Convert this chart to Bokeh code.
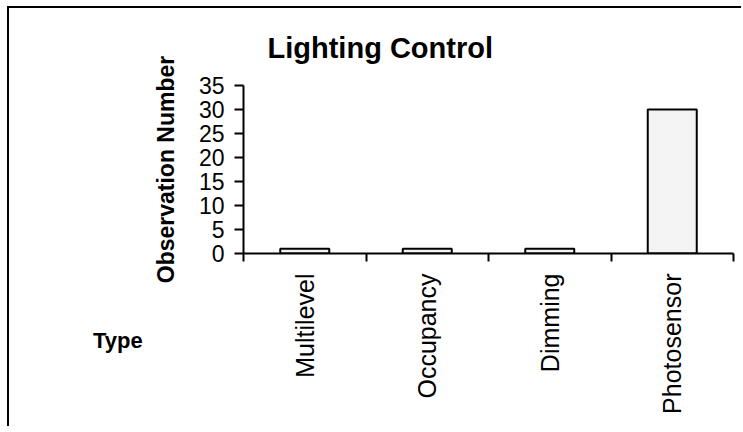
from math import pi

from bokeh.plotting import figure
from bokeh.layouts import row
from bokeh.models import (Range1d, LinearAxis, CategoricalAxis, FixedTicker,
                          ColumnDataSource, Div)
from bokeh.embed import file_html
from bokeh.resources import INLINE

# ---- data ----
categories = ["Multilevel", "Occupancy", "Dimming", "Photosensor"]
observations = [1, 1, 1, 30]
y_ticks = [0, 5, 10, 15, 20, 25, 30, 35]
title_text = "Lighting Control"
y_label = "Observation Number"
x_label = "Type"

FONT = "Liberation Sans"

src = ColumnDataSource(dict(cat=categories, obs=observations))

H = 420
LEFT_W = 140
FIG_W = 600

p = figure(x_range=categories, y_range=Range1d(y_ticks[0], y_ticks[-1]),
           width=FIG_W, height=H, output_backend="svg", toolbar_location=None,
           x_axis_location=None, title=title_text,
           min_border_left=94, min_border_right=16,
           min_border_top=77, min_border_bottom=175)

p.background_fill_color = "white"
p.border_fill_color = "white"
p.outline_line_color = None
p.grid.grid_line_color = None

# title
p.title.text_font = FONT
p.title.text_font_style = "bold"
p.title.text_font_size = "29px"
p.title.text_color = "black"
p.title.align = "left"
p.title.offset = 24
p.title.standoff = 43

# y axis
ya = p.yaxis[0]
ya.ticker = FixedTicker(ticks=y_ticks)
ya.axis_line_width = 2
ya.axis_line_color = "black"
ya.major_tick_line_width = 2
ya.major_tick_line_color = "black"
ya.major_tick_out = 9
ya.major_tick_in = 0
ya.minor_tick_line_color = None
ya.major_label_text_font = FONT
ya.major_label_text_font_size = "23px"
ya.major_label_text_color = "black"
ya.major_label_standoff = 10
ya.axis_label = y_label
ya.axis_label_text_font = FONT
ya.axis_label_text_font_style = "bold"
ya.axis_label_text_font_size = "23px"
ya.axis_label_text_color = "black"
ya.axis_label_standoff = 17

# x axis: tick marks at category boundaries (synthetic positions 0..n), no labels
tick_axis = LinearAxis(ticker=FixedTicker(ticks=list(range(len(categories) + 1))),
                       major_label_text_font_size="1px", major_label_standoff=0,
                       major_label_text_color=None,
                       major_tick_out=8, major_tick_in=0,
                       major_tick_line_width=2, major_tick_line_color="black",
                       minor_tick_line_color=None,
                       axis_line_width=2, axis_line_color="black")
p.add_layout(tick_axis, "below")

# x axis: category labels
cat_axis = CategoricalAxis(major_tick_line_color=None, major_tick_out=0,
                           major_tick_in=0, axis_line_color=None,
                           major_label_orientation=pi / 2,
                           major_label_text_font=FONT,
                           major_label_text_font_size="25px",
                           major_label_text_color="black",
                           major_label_standoff=12)
p.add_layout(cat_axis, "below")

# bars
p.vbar(x="cat", top="obs", bottom=0, width=0.4, source=src,
       fill_color="#f4f4f4", line_color="black", line_width=2)

# x-axis title "Type", to the left of the category labels as in the reference
type_div = Div(
    text=(f'<div style="padding-left:84px;padding-top:320px;'
          f"font-family:'{FONT}';font-weight:bold;font-size:22px;"
          f'color:black;white-space:nowrap;line-height:normal">{x_label}</div>'),
    width=LEFT_W, height=H, margin=0)

layout = row(type_div, p, width=734, height=H,
             styles={"margin-left": "9px", "margin-top": "8px",
                     "box-shadow": "-2px -2px 0 0 black",
                     "overflow": "hidden", "background": "white"})

open("out.html", "w").write(file_html(layout, INLINE))
